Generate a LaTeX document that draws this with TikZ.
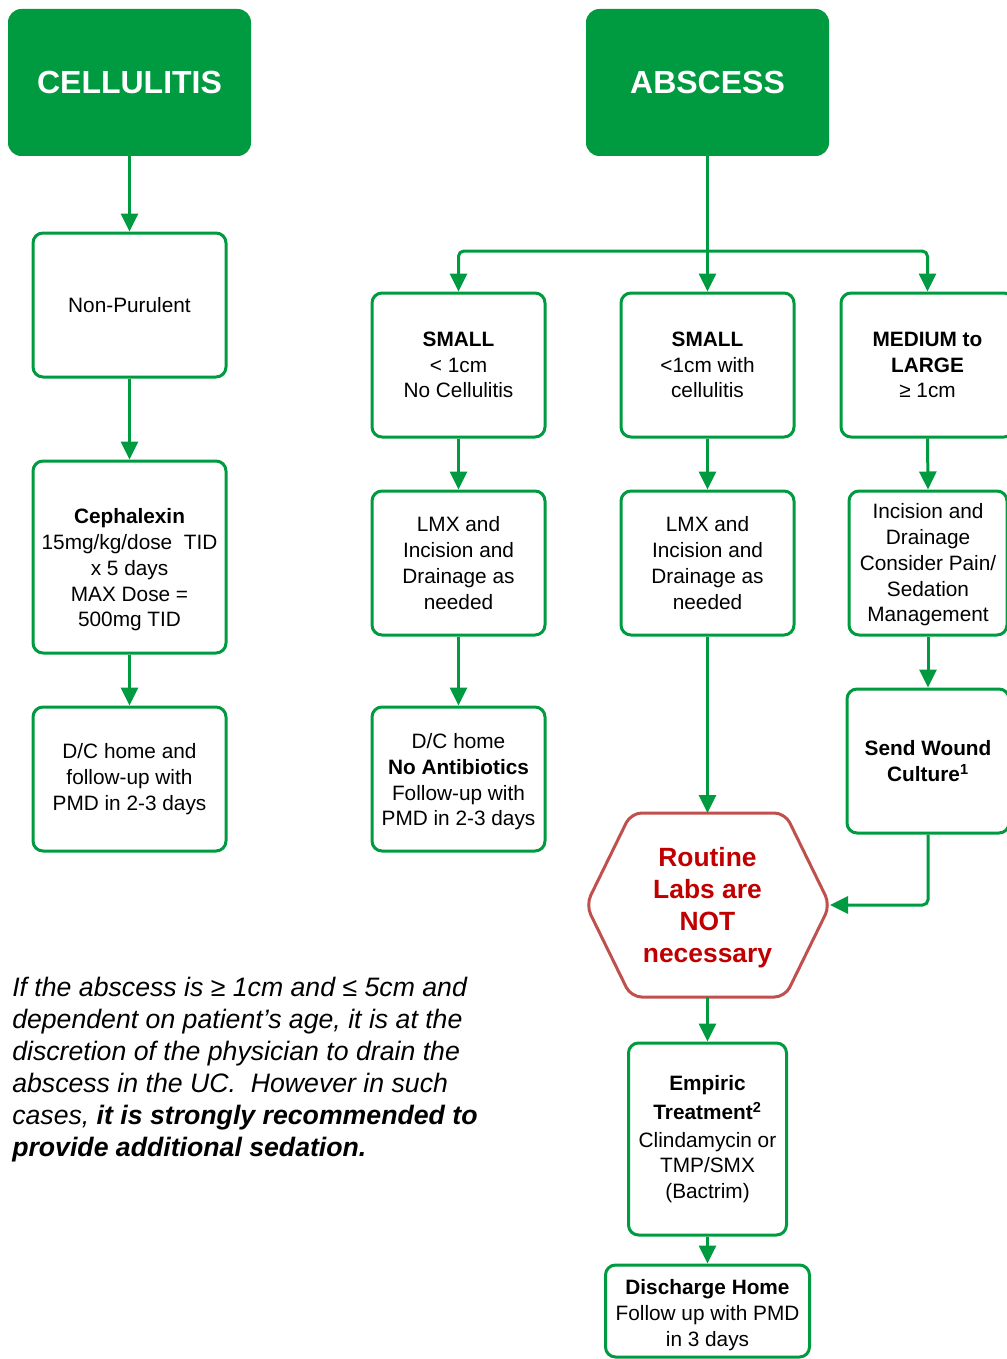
\documentclass[tikz,border=0pt]{standalone}
\usepackage{fontspec}
\setmainfont{Liberation Sans}
\usetikzlibrary{arrows.meta}
\definecolor{grn}{RGB}{0,155,64}
\definecolor{hexred}{RGB}{192,80,77}
\definecolor{txtred}{RGB}{192,0,0}
\begin{document}
\begin{tikzpicture}[x=0.75pt,y=-0.75pt,
  title/.style={fill=grn, draw=none, rounded corners=10pt, minimum width=182.25pt, minimum height=110.25pt, text=white, font=\fontsize{24}{28}\selectfont\bfseries, inner sep=0pt},
  box/.style={draw=grn, line width=2.25pt, fill=white, rounded corners=7.5pt, align=center, inner sep=0pt, font=\fontsize{15.6}{19.3}\selectfont},
  boxtext/.style={align=center, inner sep=0pt, font=\fontsize{15.6}{19.3}\selectfont},
  conn/.style={draw=grn, line width=2.25pt, -{Triangle[length=13.5pt,width=12.75pt]}},
  hexline/.style={draw=hexred, line width=2.25pt, rounded corners=8pt}
]
\useasboundingbox (0,0) rectangle (1006,1359);

% titles
\node[title] (cell) at (129.5,82.5) {CELLULITIS};
\node[title] (absc) at (707.5,82.5) {ABSCESS};

% cellulitis column
\node[box, minimum width=144.75pt, minimum height=108pt] (nonp) at (129.5,305) {Non-Purulent};
\node[box, minimum width=144.75pt, minimum height=144pt] (ceph) at (129.5,557) {};
\node[boxtext] (cephtext) at (129.5,570) {\textbf{Cephalexin}\\15mg/kg/dose~ TID\\x 5 days\\MAX Dose =\\500mg TID};
\node[box, minimum width=144.75pt, minimum height=108pt] (dc1) at (129.5,779) {D/C home and\\follow-up with\\PMD in 2-3 days};

% abscess row 1
\node[box, minimum width=129.75pt, minimum height=108pt] (s1) at (458.5,365) {\textbf{SMALL}\\< 1cm\\No Cellulitis};
\node[box, minimum width=129.75pt, minimum height=108pt] (s2) at (707.5,365) {\textbf{SMALL}\\<1cm with\\cellulitis};
\node[box, minimum width=129.75pt, minimum height=108pt] (med) at (927.5,365) {\textbf{MEDIUM to}\\\textbf{LARGE}\\≥ 1cm};

% abscess row 2
\node[box, minimum width=129.75pt, minimum height=108pt] (lmx1) at (458.5,563) {LMX and\\Incision and\\Drainage as\\needed};
\node[box, minimum width=129.75pt, minimum height=108pt] (lmx2) at (707.5,563) {LMX and\\Incision and\\Drainage as\\needed};
\node[box, minimum width=118.5pt, minimum height=108pt] (inc) at (928,563) {};
\node[boxtext] (inctext) at (928,565) {Incision and\\Drainage\\Consider Pain/\\Sedation\\Management};

% row 3
\node[box, minimum width=129.75pt, minimum height=108pt] (dc2) at (458.5,779) {};
\node[boxtext] (dc2text) at (458.5,782) {D/C home\\\textbf{No Antibiotics}\\Follow-up with\\PMD in 2-3 days};
\node[box, minimum width=121.5pt, minimum height=108pt] (send) at (928,761) {\textbf{Send Wound}\\\textbf{Culture\textsuperscript{1}}};

% hexagon
\coordinate (hexT) at (707.5,813);
\coordinate (hexR) at (830,905);
\coordinate (hexB) at (707.5,997);
\draw[hexline] (hexT) -- (785,813) -- (hexR) -- (785,997) -- (hexB) -- (631,997) -- (586,905) -- (631,813) -- cycle;
\node[align=center, text=txtred, inner sep=0pt, font=\fontsize{19.8}{24}\selectfont\bfseries] (hex) at (707.5,908) {Routine\\Labs are\\NOT\\necessary};

% bottom
\node[box, minimum width=118.5pt, minimum height=144pt] (emp) at (707.5,1139) {\textbf{Empiric}\\[2.5pt]\textbf{Treatment\textsuperscript{2}}\\[1.5pt]Clindamycin or\\TMP/SMX\\(Bactrim)};
\node[box, minimum width=153pt, minimum height=69pt] (dis) at (707.5,1311) {};
\node[boxtext] (distext) at (707.5,1315) {\textbf{Discharge Home}\\Follow up with PMD\\in 3 days};

% note
\node[anchor=north west, inner sep=0pt, align=left, font=\fontsize{20}{24}\selectfont\itshape] (note) at (12,977) {If the abscess is ≥ 1cm and ≤ 5cm and\\dependent on patient’s age, it is at the\\discretion of the physician to drain the\\abscess in the UC.\ \ However in such\\cases, \textbf{it is strongly recommended to}\\\textbf{provide additional sedation.}};

% connectors
\draw[conn] (cell.south) -- (nonp.north);
\draw[conn] (nonp.south) -- (ceph.north);
\draw[conn] (ceph.south) -- (dc1.north);

\coordinate (split) at (707.5,251);
\draw[conn] (absc.south) -- (s2.north);
\draw[conn, rounded corners=4pt] (split) -| (s1.north);
\draw[conn, rounded corners=4pt] (split) -| (med.north);

\draw[conn] (s1.south) -- (lmx1.north);
\draw[conn] (s2.south) -- (lmx2.north);
\draw[conn] (med.south) -- (inc.north);

\draw[conn] (lmx1.south) -- (dc2.north);
\draw[conn] (lmx2.south) -- (hexT);
\draw[conn] (inc.south) -- (send.north);
\draw[conn, rounded corners=4pt] (send.south) |- (hexR);

\draw[conn] (hexB) -- (emp.north);
\draw[conn] (emp.south) -- (dis.north);
\end{tikzpicture}
\end{document}
